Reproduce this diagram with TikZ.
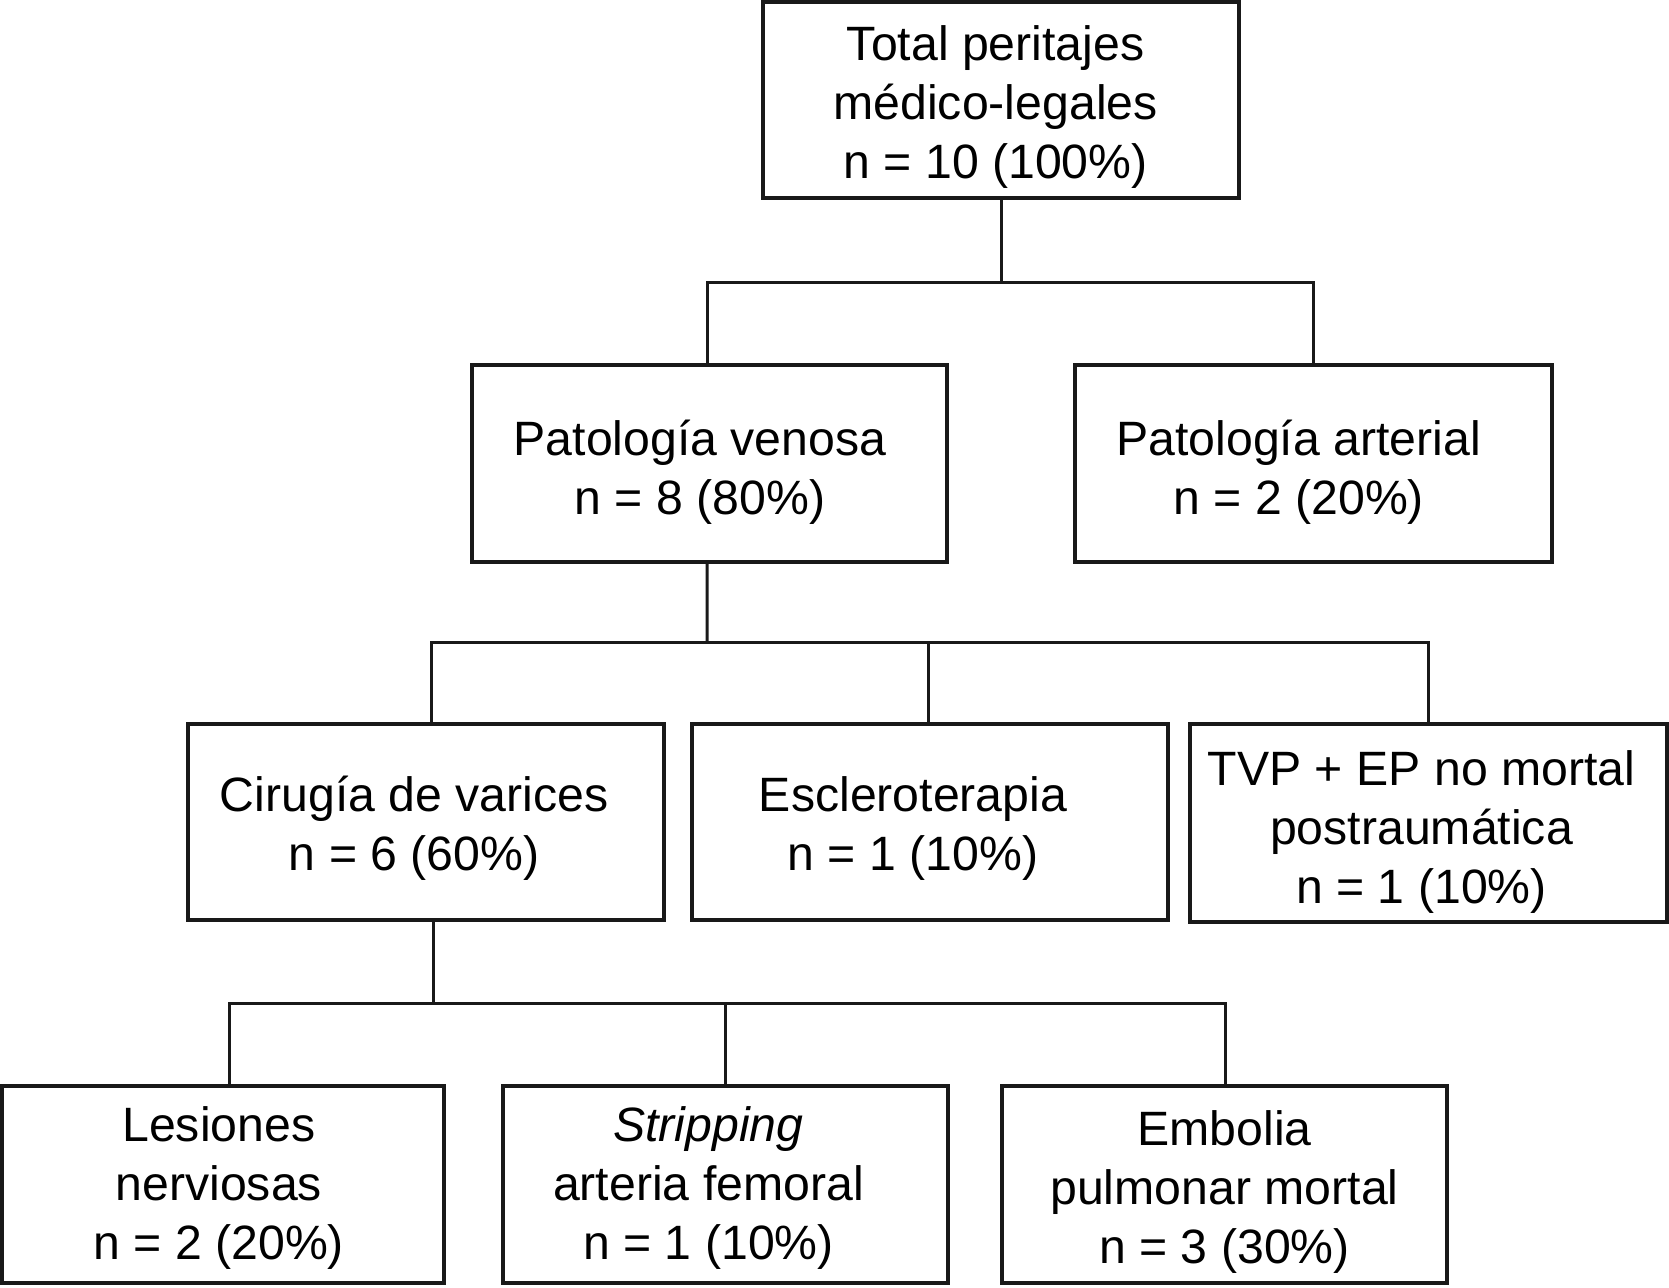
\documentclass[tikz,border=0pt]{standalone}
\usepackage{fontspec}
\setmainfont{Liberation Sans}
\newcommand\lbl[3]{\kern#1\raisebox{#2}[\height][\depth]{\begin{tabular}{@{}c@{}}#3\end{tabular}}\kern-#1}
\begin{document}
\begin{tikzpicture}[x=0.5pt,y=-0.5pt,
  box/.style={draw=black!90, line width=1.6pt, inner sep=0pt,
    font=\fontsize{24.1}{29.5}\selectfont},
  conn/.style={draw=black!90, line width=1.5pt}]
\useasboundingbox (0,0) rectangle (1669,1287);
\fill[white] (0,0) rectangle (1669,1287);
% level 0
\node[box, minimum width=238pt, minimum height=98pt] (top) at (1001,100)
  {\lbl{-2.7pt}{-3.7pt}{Total peritajes\\médico-legales\\n = 10 (100\%)}};
% level 1
\node[box, minimum width=237.5pt, minimum height=98.5pt] (ven) at (709.5,463.5)
  {\lbl{-4.8pt}{-4.8pt}{Patología venosa\\n = 8 (80\%)}};
\node[box, minimum width=238.5pt, minimum height=98.5pt] (art) at (1313.5,463.5)
  {\lbl{-7.4pt}{-4.8pt}{Patología arterial\\n = 2 (20\%)}};
% level 2
\node[box, minimum width=238pt, minimum height=98pt] (cir) at (426,822)
  {\lbl{-5.9pt}{-3.7pt}{Cirugía de varices\\n = 6 (60\%)}};
\node[box, minimum width=238pt, minimum height=98pt] (esc) at (930,822)
  {\lbl{-8.5pt}{-3.7pt}{Escleroterapia\\n = 1 (10\%)}};
\node[box, minimum width=238.5pt, minimum height=99pt] (tvp) at (1428.5,823)
  {\lbl{-3.5pt}{-4.8pt}{TVP + EP no mortal\\postraumática\\n = 1 (10\%)}};
% level 3
\node[box, minimum width=221pt, minimum height=98.5pt] (les) at (223,1184.5)
  {\lbl{-2.1pt}{-2.1pt}{Lesiones\\nerviosas\\n = 2 (20\%)}};
\node[box, minimum width=222.5pt, minimum height=98.5pt] (str) at (725.5,1184.5)
  {\lbl{-8.5pt}{-2.1pt}{\textit{Stripping}\\arteria femoral\\n = 1 (10\%)}};
\node[box, minimum width=222.5pt, minimum height=98.5pt] (emb) at (1224.5,1184.5)
  {\lbl{0pt}{-4.3pt}{Embolia\\pulmonar mortal\\n = 3 (30\%)}};
% connectors
\coordinate (j0) at (1001,282);
\draw[conn] (top.south) -- (j0);
\draw[conn] ([xshift=-1.2pt]ven.north) |- (j0) -| (art.north);
\coordinate (j1) at (707,642);
\draw[conn] ([xshift=-1.2pt]ven.south) -- (j1);
\draw[conn] ([xshift=2.5pt]cir.north) |- (j1) -| (tvp.north);
\draw[conn] ([xshift=-1pt]esc.north) -- ([xshift=-1pt]esc.north |- j1);
\coordinate (j2) at (433,1003);
\draw[conn] ([xshift=3.5pt]cir.south) -- (j2);
\draw[conn] ([xshift=3pt]les.north) |- (j2) -| ([xshift=0.7pt]emb.north);
\draw[conn] (str.north) -- (str.north |- j2);
\end{tikzpicture}
\end{document}
